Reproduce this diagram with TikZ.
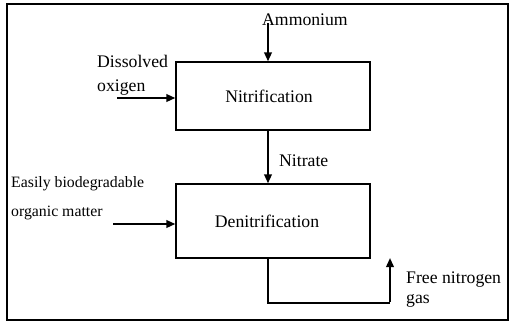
\documentclass[tikz,border=0pt]{standalone}
\usepackage{fontspec}
\setmainfont{Liberation Serif}
\usetikzlibrary{arrows.meta}

\begin{document}
\begin{tikzpicture}[x=1pt, y=-1pt,
	every node/.style={font=\fontsize{17.7}{20}\selectfont, inner sep=0pt},
	process/.style={draw, line width=1.2pt, minimum width=194pt, minimum height=68pt},
	flow/.style={line width=2pt, -{Triangle[length=9pt,width=7.5pt]}}]
	\useasboundingbox (0,0) rectangle (513,324);
	\draw[line width=2pt] (7,4) rectangle (508,320);
	% the two processes
	\node[process] (nitri) at (273,96) {Nitrification\hspace*{8pt}};
	\node[process, minimum height=74pt] (denitri) at (273,221) {Denitrification\hspace*{12pt}};
	% inputs of the nitrification
	\node[anchor=base west] (ammon) at (262,25) {Ammonium};
	\coordinate (ammon in) at (268,23);
	\draw[flow] (ammon in) -- ([xshift=-5pt]nitri.north);
	\node[anchor=base west] (oxy1) at (97,67) {Dissolved};
	\node[anchor=base west] (oxy2) at (97,91) {oxigen};
	\coordinate (oxy in) at (117,98);
	\draw[flow] (oxy in) -- (oxy in -| nitri.west);
	% nitrate to the denitrification
	\draw[flow] ([xshift=-5pt]nitri.south) -- ([xshift=-5pt]denitri.north);
	\node[anchor=base west] (nitrate) at (279,166) {Nitrate};
	\begin{scope}[every node/.style={font=\fontsize{15.8}{18}\selectfont, inner sep=0pt}]
		\node[anchor=base west] (org1) at (11,187) {Easily biodegradable};
		\node[anchor=base west] (org2) at (11,216) {organic matter};
	\end{scope}
	\coordinate (org in) at (113,224);
	\draw[flow] (org in) -- (org in -| denitri.west);
	% gas out
	\coordinate (bend) at (390,303);
	\draw[line width=1.2pt] ([xshift=-5pt]denitri.south) |- (bend);
	\draw[flow] ([yshift=0.6pt]bend) -- (390,258);
	\node[anchor=base west] (gas1) at (406,283) {Free nitrogen};
	\node[anchor=base west] (gas2) at (406,303) {gas};
\end{tikzpicture}
\end{document}
